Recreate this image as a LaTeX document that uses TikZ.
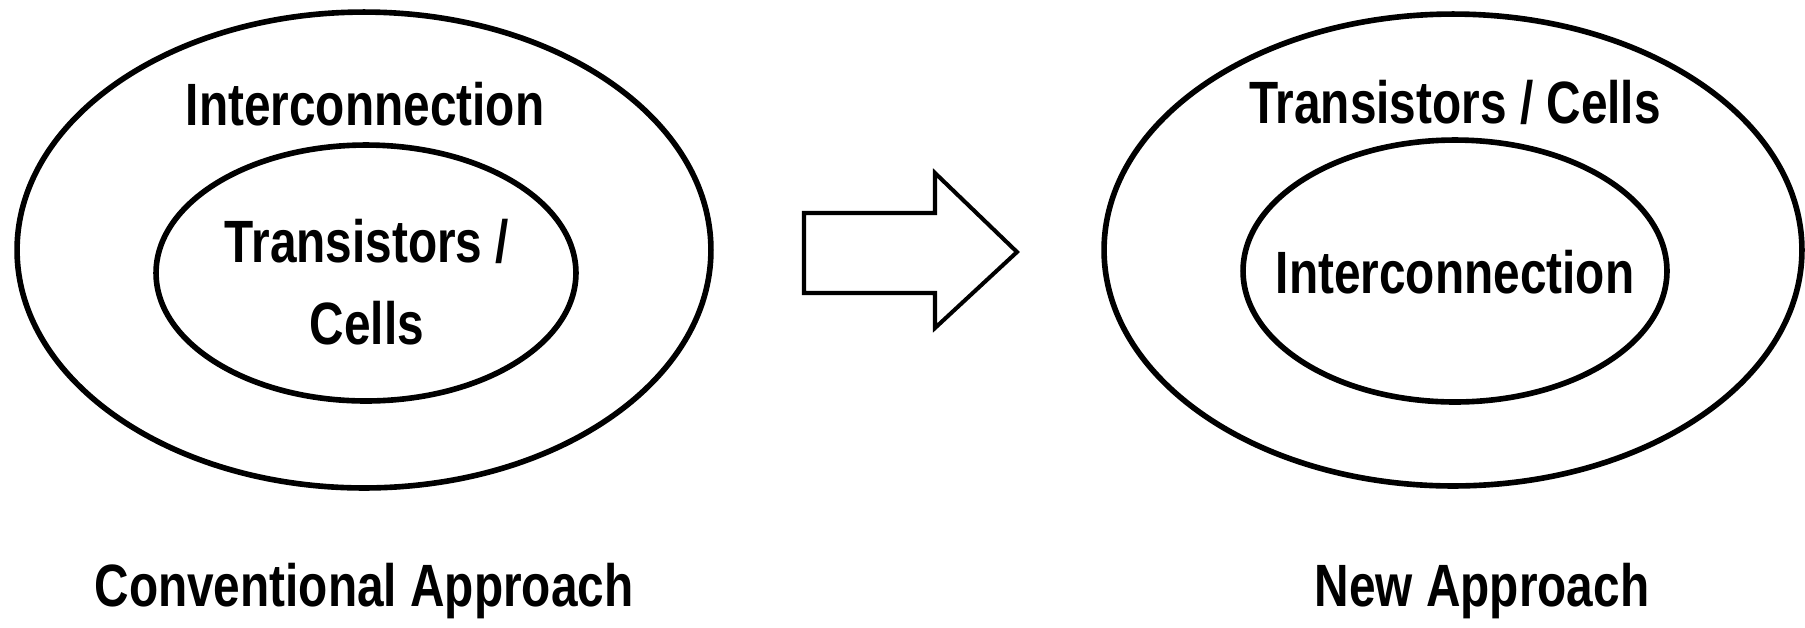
\documentclass[tikz,border=0pt]{standalone}
\usepackage{fontspec}
\setmainfont{Liberation Sans}[FakeStretch=0.80]
\usetikzlibrary{shapes.geometric}

\begin{document}
\begin{tikzpicture}[x=0.02cm,y=-0.02cm,font=\fontsize{34}{47}\selectfont\bfseries,
 ring/.style={draw,ellipse,line width=3.2pt,inner sep=0pt},
 lbl/.style={anchor=base,inner sep=0pt}]
\useasboundingbox (0,0) rectangle (1805,627);
% conventional approach
\node[ring,minimum width=13.88cm,minimum height=9.52cm] (oldouter) at (364,250) {};
\node[ring,minimum width=8.4cm,minimum height=5.12cm] (oldinner) at (366,273) {};
\node[lbl] (oldwire) at (365,125) {Interconnection};
\node[align=center,inner sep=0pt] (oldcell) at (367,282) {Transistors /\\Cells};
\node[lbl] (oldname) at (364,606) {Conventional Approach};

% new approach
\node[ring,minimum width=13.96cm,minimum height=9.44cm] (newouter) at (1453,250) {};
\node[ring,minimum width=8.48cm,minimum height=5.24cm] (newinner) at (1455,271) {};
\node[lbl] (newcell) at (1455,123) {Transistors / Cells};
\node[lbl] (newwire) at (1455,293) {Interconnection};
\node[lbl] (newname) at (1482,606) {New Approach};

% block arrow
\draw[line width=2.3pt,line join=miter] (804,213) -- (935,213) -- (935,173) -- (1017,252)
 -- (935,328) -- (935,293) -- (804,293) -- cycle;
\end{tikzpicture}
\end{document}
